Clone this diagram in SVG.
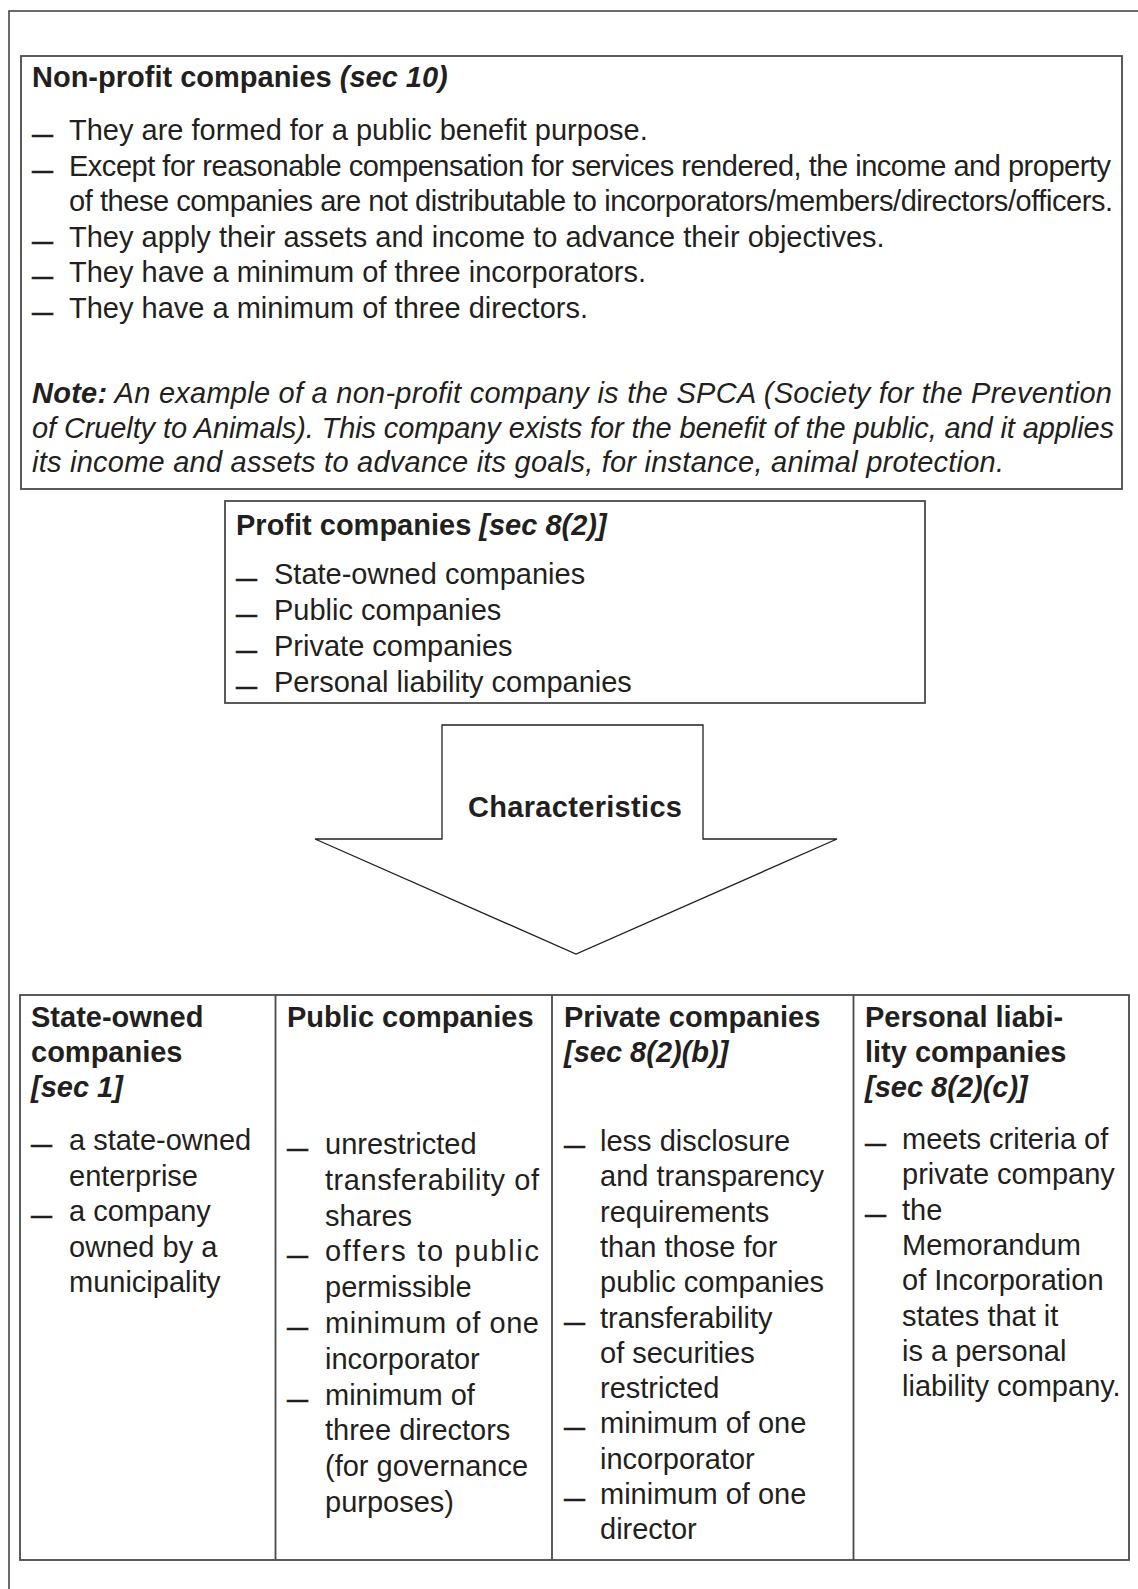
<svg xmlns="http://www.w3.org/2000/svg" width="1138" height="1589" viewBox="0 0 1138 1589">
<style>
.frame{fill:none;stroke:#3a3a3a;stroke-width:1.5}
.box{fill:#fff;stroke:#4a4a4a;stroke-width:1.8}
.arrow{fill:#fff;stroke:#231f20;stroke-width:1.3;stroke-linejoin:miter}
.t{font-family:"Liberation Sans",Arial,Helvetica,sans-serif;font-size:29px;fill:#231f20}
.b{font-weight:bold}
.i{font-style:italic}
.d{font-family:"Liberation Sans",Arial,Helvetica,sans-serif;font-size:21px;font-weight:bold;fill:#231f20;stroke:#231f20;stroke-width:0.6}
</style>
<rect width="1138" height="1589" fill="#fff"/>
<rect class="frame" x="9" y="11" width="1200" height="1620"/>

<g id="nonprofit">
<rect class="box" x="21" y="56" width="1101" height="433"/>
<text class="t b" x="32" y="87">Non-profit companies <tspan class="i">(sec 10)</tspan></text>
<text class="d" x="32" y="141">—</text>
<text class="t" x="69" y="140">They are formed for a public benefit purpose.</text>
<text class="d" x="32" y="176.6">—</text>
<text class="t" x="69" y="175.6" textLength="1042" lengthAdjust="spacing">Except for reasonable compensation for services rendered, the income and property</text>
<text class="t" x="69" y="211.2" textLength="1044" lengthAdjust="spacing">of these companies are not distributable to incorporators/members/directors/officers.</text>
<text class="d" x="32" y="247.8">—</text>
<text class="t" x="69" y="246.8">They apply their assets and income to advance their objectives.</text>
<text class="d" x="32" y="283.4">—</text>
<text class="t" x="69" y="282.4">They have a minimum of three incorporators.</text>
<text class="d" x="32" y="319">—</text>
<text class="t" x="69" y="318">They have a minimum of three directors.</text>
<text class="t i" x="32" y="403" textLength="1080" lengthAdjust="spacing"><tspan class="b">Note:</tspan> An example of a non-profit company is the SPCA (Society for the Prevention</text>
<text class="t i" x="32" y="437.5" textLength="1082" lengthAdjust="spacing">of Cruelty to Animals). This company exists for the benefit of the public, and it applies</text>
<text class="t i" x="32" y="472" textLength="972" lengthAdjust="spacing">its income and assets to advance its goals, for instance, animal protection.</text>
</g>

<g id="profit">
<rect class="box" x="225" y="501" width="700" height="202"/>
<text class="t b" x="236" y="535">Profit companies <tspan class="i">[sec 8(2)]</tspan></text>
<text class="d" x="236" y="584.5">—</text>
<text class="t" x="274" y="583.5">State-owned companies</text>
<text class="d" x="236" y="620.6">—</text>
<text class="t" x="274" y="619.6">Public companies</text>
<text class="d" x="236" y="656.8">—</text>
<text class="t" x="274" y="655.8">Private companies</text>
<text class="d" x="236" y="693">—</text>
<text class="t" x="274" y="692">Personal liability companies</text>
</g>

<g id="connectors">
<polygon class="arrow" points="442,725 703,725 703,839 837,839 576,954 315,839 442,839"/>
<text class="t b" x="575" y="817" text-anchor="middle" textLength="214" lengthAdjust="spacing">Characteristics</text>
</g>

<g id="table">
<rect class="box" x="20" y="995" width="1109" height="565"/>
<line class="box" x1="275.5" y1="995" x2="275.5" y2="1560"/>
<line class="box" x1="552" y1="995" x2="552" y2="1560"/>
<line class="box" x1="853.5" y1="995" x2="853.5" y2="1560"/>
</g>

<g id="state-owned">
<text class="t b" x="31" y="1027">State-owned</text>
<text class="t b" x="31" y="1062">companies</text>
<text class="t b i" x="31" y="1097">[sec 1]</text>
<text class="d" x="31" y="1151">—</text>
<text class="t" x="69" y="1150">a state-owned</text>
<text class="t" x="69" y="1185.5">enterprise</text>
<text class="d" x="31" y="1222">—</text>
<text class="t" x="69" y="1221">a company</text>
<text class="t" x="69" y="1256.5">owned by a</text>
<text class="t" x="69" y="1292">municipality</text>
</g>

<g id="public">
<text class="t b" x="287" y="1027">Public companies</text>
<text class="d" x="287" y="1155">—</text>
<text class="t" x="325" y="1154">unrestricted</text>
<text class="t" x="325" y="1189.8" textLength="214" lengthAdjust="spacing">transferability of</text>
<text class="t" x="325" y="1225.6">shares</text>
<text class="d" x="287" y="1262.4">—</text>
<text class="t" x="325" y="1261.4" textLength="214" lengthAdjust="spacing">offers to public</text>
<text class="t" x="325" y="1297.2">permissible</text>
<text class="d" x="287" y="1334">—</text>
<text class="t" x="325" y="1333" textLength="214" lengthAdjust="spacing">minimum of one</text>
<text class="t" x="325" y="1368.8">incorporator</text>
<text class="d" x="287" y="1405.6">—</text>
<text class="t" x="325" y="1404.6">minimum of</text>
<text class="t" x="325" y="1440.4">three directors</text>
<text class="t" x="325" y="1476.2">(for governance</text>
<text class="t" x="325" y="1512">purposes)</text>
</g>

<g id="private">
<text class="t b" x="564" y="1027">Private companies</text>
<text class="t b i" x="564" y="1062">[sec 8(2)(b)]</text>
<text class="d" x="564" y="1152">—</text>
<text class="t" x="600" y="1151">less disclosure</text>
<text class="t" x="600" y="1186.3">and transparency</text>
<text class="t" x="600" y="1221.6">requirements</text>
<text class="t" x="600" y="1256.9">than those for</text>
<text class="t" x="600" y="1292.2">public companies</text>
<text class="d" x="564" y="1328.5">—</text>
<text class="t" x="600" y="1327.5">transferability</text>
<text class="t" x="600" y="1362.8">of securities</text>
<text class="t" x="600" y="1398.1">restricted</text>
<text class="d" x="564" y="1434.4">—</text>
<text class="t" x="600" y="1433.4">minimum of one</text>
<text class="t" x="600" y="1468.7">incorporator</text>
<text class="d" x="564" y="1505">—</text>
<text class="t" x="600" y="1504">minimum of one</text>
<text class="t" x="600" y="1539.3">director</text>
</g>

<g id="personal-liability">
<text class="t b" x="865" y="1027">Personal liabi-</text>
<text class="t b" x="865" y="1062">lity companies</text>
<text class="t b i" x="865" y="1097">[sec 8(2)(c)]</text>
<text class="d" x="865" y="1150">—</text>
<text class="t" x="902" y="1149">meets criteria of</text>
<text class="t" x="902" y="1184.3">private company</text>
<text class="d" x="865" y="1220.6">—</text>
<text class="t" x="902" y="1219.6">the</text>
<text class="t" x="902" y="1254.9">Memorandum</text>
<text class="t" x="902" y="1290.2">of Incorporation</text>
<text class="t" x="902" y="1325.5">states that it</text>
<text class="t" x="902" y="1360.8">is a personal</text>
<text class="t" x="902" y="1396.1">liability company.</text>
</g>
</svg>
